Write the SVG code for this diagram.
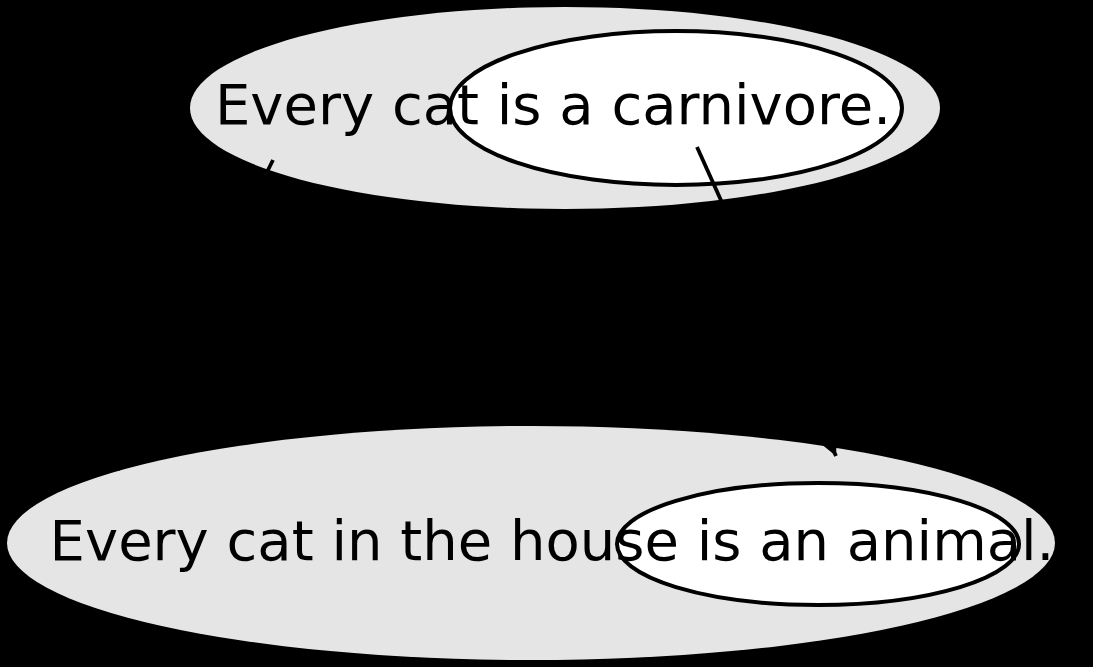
<svg xmlns="http://www.w3.org/2000/svg" width="1093" height="667" viewBox="0 0 1093 667">
<style>
.outer{fill:#e5e5e5;stroke:none}
.inner{fill:#ffffff;stroke:#000;stroke-width:4}
.lbl{font-family:"DejaVu Sans",sans-serif;font-size:56px;fill:#000;text-anchor:middle}
.edge{stroke:#000;stroke-width:3.8;fill:none}
</style>
<defs>
<marker id="ah" viewBox="0 0 10 10" refX="10" refY="5" markerWidth="5" markerHeight="5" orient="auto" markerUnits="strokeWidth">
<path d="M0,0 L10,5 L0,10 z" fill="#000"/>
</marker>
</defs>
<rect x="0" y="0" width="1093" height="667" fill="#000"/>
<g id="node1">
<ellipse class="outer" cx="565" cy="108" rx="375" ry="101"/>
<ellipse class="inner" cx="676" cy="108" rx="226" ry="77"/>
<text class="lbl" x="553" y="124">Every cat is a carnivore.</text>
</g>
<g id="node2">
<ellipse class="outer" cx="531" cy="543" rx="524" ry="117"/>
<ellipse class="inner" cx="818" cy="544" rx="201" ry="61"/>
<text class="lbl" x="552" y="560">Every cat in the house is an animal.</text>
</g>
<g id="edges">
<path class="edge" d="M697,147 L836,456" marker-end="url(#ah)"/>
<path class="edge" d="M273,160 L118,470"/>
</g>
</svg>
